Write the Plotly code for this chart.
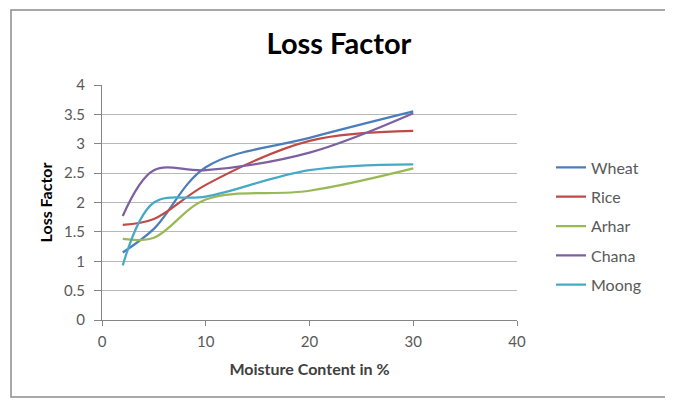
import plotly.graph_objects as go

moisture = [2, 5, 10, 20, 30]
wheat = [1.15, 1.55, 2.6, 3.1, 3.55]
rice = [1.62, 1.72, 2.3, 3.05, 3.22]
arhar = [1.38, 1.4, 2.05, 2.2, 2.58]
chana = [1.77, 2.55, 2.55, 2.85, 3.52]
moong = [0.93, 2.0, 2.1, 2.55, 2.65]

series = [
    ("Wheat", wheat, "#4A7EBB"),
    ("Rice", rice, "#BE4B48"),
    ("Arhar", arhar, "#98B954"),
    ("Chana", chana, "#7D60A0"),
    ("Moong", moong, "#46AAC5"),
]

FONT = "Lato, 'Open Sans', sans-serif"

fig = go.Figure()
for i, (name, vals, color) in enumerate(series):
    fig.add_trace(go.Scatter(
        x=moisture, y=vals, name=name, mode="lines",
        line=dict(color=color, width=2.25, shape="spline", smoothing=1.0),
        legendgroup=f"g{i}",
    ))

# page body has an 8px margin; work in figure coords = page coords - 8
OFF = 8
W, H = 673 - OFF, 401 - OFF
L, R, T, B = 102 - OFF, 517 - OFF, 85 - OFF, 320 - OFF
pw, ph = R - L, B - T

def px_x(p):
    return (p - OFF - L) / pw

def px_y(p):
    return (B - (p - OFF)) / ph

fig.update_layout(
    width=W, height=H,
    margin=dict(l=L, r=W - R, t=T, b=H - B, pad=0),
    paper_bgcolor="white", plot_bgcolor="white",
    font=dict(family=FONT, color="#595959", size=15),
    title=dict(text="<b>Loss Factor</b>", xref="container",
               x=(339 - OFF) / W, xanchor="center",
               y=1 - (44 - OFF) / H, yanchor="middle",
               font=dict(family=FONT, size=29, color="#000000")),
    showlegend=True,
    legend=dict(x=px_x(551), xanchor="left", y=px_y(150.5), yanchor="top",
                font=dict(family=FONT, size=16, color="#595959"),
                tracegroupgap=5.5, itemwidth=30, bgcolor="rgba(0,0,0,0)"),
    xaxis=dict(range=[0, 40], dtick=10, tick0=0, showgrid=False,
               showline=True, linecolor="#868686", linewidth=1,
               ticks="outside", ticklen=5, tickcolor="#868686",
               ticklabelstandoff=3,
               zeroline=False,
               title=dict(text="<b>Moisture Content in %</b>",
                          font=dict(family=FONT, size=16, color="#404040"),
                          standoff=14),
               tickfont=dict(family=FONT, size=15, color="#595959")),
    yaxis=dict(range=[0, 4], dtick=0.5, tick0=0, showgrid=True,
               gridcolor="#B8B8B8", gridwidth=1,
               showline=True, linecolor="#868686", linewidth=1,
               ticks="outside", ticklen=7, tickcolor="#868686",
               ticklabelstandoff=6,
               zeroline=False,
               title=dict(text="<b>Loss Factor</b>",
                          font=dict(family=FONT, size=16, color="#000000"),
                          standoff=7),
               tickfont=dict(family=FONT, size=15, color="#595959")),
    shapes=[dict(type="rect", xref="paper", yref="paper",
                 x0=px_x(11), x1=px_x(667), y0=px_y(397), y1=px_y(10),
                 line=dict(color="#8C8C8C", width=1.5), fillcolor="rgba(0,0,0,0)",
                 layer="below")],
)

fig.write_html("out.html")
